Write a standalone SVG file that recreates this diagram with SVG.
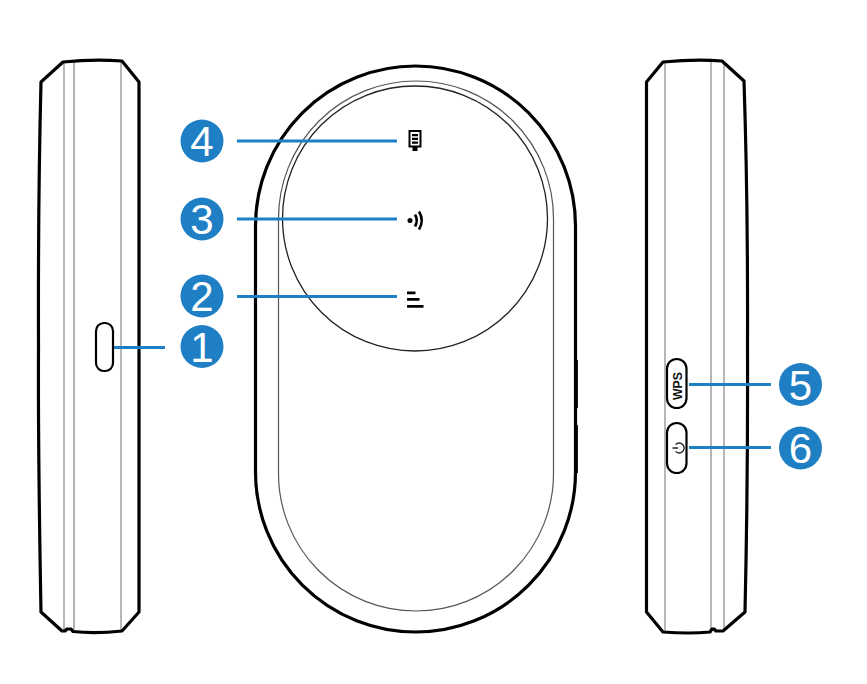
<svg xmlns="http://www.w3.org/2000/svg" width="867" height="684" viewBox="0 0 867 684">
<style>
.o{fill:none;stroke:#000;stroke-width:3.200;stroke-linejoin:round;stroke-linecap:round}
.b{fill:#fff;stroke:#000;stroke-width:2.200}
.g{fill:none;stroke:#999;stroke-width:1.400}
.g2{fill:none;stroke:#aaa;stroke-width:1.800}
.c{stroke:#1f7fc4;stroke-width:2.800;fill:none}
.d{fill:#1f7fc4}
.n{font-family:"Liberation Sans",Arial,sans-serif;font-size:42px;fill:#fff;text-anchor:middle}
.i{fill:#000;stroke:none}
</style>
<rect width="867" height="684" fill="#fff"/>
<g id="left-side">
<path class="g" d="M64 62V630M121 61V631"/>
<path class="g2" d="M74 61V630"/>
<path class="o" d="M41 82L63 62Q93 59 122 61L139 82V612L122 631Q95 634 73 631.500L71 629H67L65 631H62L41 612Q38 450 38.500 347Q38 200 41 82Z"/>
<rect class="b" x="96" y="323" width="17" height="48" rx="8"/>
</g>
<g id="front">
<rect class="o" x="255.500" y="66" width="320" height="566" rx="160" ry="160"/>
<rect x="278.500" y="81" width="275" height="530" rx="137.500" fill="none" stroke="#555" stroke-width="1.200"/>
<circle cx="415" cy="218.500" r="132.500" fill="none" stroke="#222" stroke-width="1.300"/>
<path d="M576 360V408M576 425V473" stroke="#000" stroke-width="3.800" fill="none"/>
</g>
<g id="side-right">
<path class="g" d="M665 62V631M711 61V631M724 62V630"/>
<path class="o" d="M646.500 82L663 62Q695 59 722 61L744 81Q748 200 747.500 347Q748 480 745 612L723 631H716L714 629H712L710 632Q690 634 663 632L646.500 612Z"/>
<rect class="b" x="667" y="359" width="19.500" height="49" rx="9.700"/>
<text transform="translate(681.500 386) rotate(-90)" font-family="'Liberation Sans',Arial,sans-serif" font-size="13" font-weight="700" text-anchor="middle" fill="#111" textLength="28" lengthAdjust="spacingAndGlyphs">WPS</text>
<rect class="b" x="667" y="423" width="19.500" height="50" rx="9.700"/>
<path d="M674.600 445.500A5 5 0 1 0 681.400 445.500M678 442.500V448" fill="none" stroke="#222" stroke-width="1.300" transform="rotate(-90 678 448)"/>
</g>
<g id="connectors">
<path class="c" d="M114 347.500H165M237 141H397M237 219H397M237 296.500H397M689 384.500H771M689 447.500H771"/>
</g>
<g id="icon-4">
<path class="i" fill-rule="evenodd" d="M408.500 130H421.500V147.500H417.500V151H412.500V147.500H408.500ZM410.500 132V145.500H419.500V132Z"/>
<path class="i" d="M412 134H418V136.300H412ZM412 137.700H418V140H412ZM412 141.400H418V143.700H412Z"/>
</g>
<g id="icon-3">
<circle class="i" cx="410" cy="220.500" r="2.500"/>
<path d="M415 214.500Q418.500 220.500 415 226.500M419 211.500Q424.500 220.500 419 229.500" fill="none" stroke="#000" stroke-width="2.600"/>
</g>
<g id="icon-2">
<path class="i" d="M407 291.500H415.500V294.300H407ZM407 298H419.500V300.800H407ZM407 305H423.500V307.800H407Z"/>
</g>
<g id="badge-1"><circle class="d" cx="202" cy="346.500" r="21.500"/><text class="n" x="202" y="361.500">1</text></g>
<g id="badge-2"><circle class="d" cx="202" cy="296" r="21.500"/><text class="n" x="202" y="311">2</text></g>
<g id="badge-3"><circle class="d" cx="202" cy="219" r="21.500"/><text class="n" x="202" y="234">3</text></g>
<g id="badge-4"><circle class="d" cx="202" cy="141" r="21.500"/><text class="n" x="202" y="156">4</text></g>
<g id="badge-5"><circle class="d" cx="800.500" cy="384.500" r="21.500"/><text class="n" x="800.500" y="399.500">5</text></g>
<g id="badge-6"><circle class="d" cx="800.500" cy="448" r="21.500"/><text class="n" x="800.500" y="463">6</text></g>
</svg>
